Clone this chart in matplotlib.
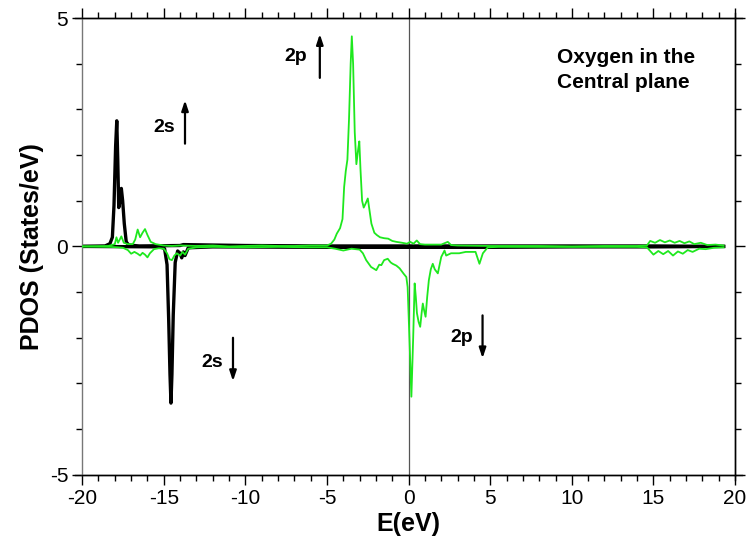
import matplotlib
matplotlib.use("Agg")
import matplotlib.pyplot as plt
from matplotlib.ticker import MultipleLocator
import numpy as np

plt.rcParams['font.family'] = ['Liberation Sans', 'DejaVu Sans']
plt.rcParams['axes.unicode_minus'] = False

# O 2s, spin up / spin down (black)
e_2s_up = [-20, -18.6, -18.3, -18.15, -18.05, -17.95, -17.88, -17.82, -17.76, -17.68,
           -17.6, -17.52, -17.42, -17.3, -17.15, -16.5, -14.0, -13.8, -10, -5, 0, 5,
           10, 15, 19.3]
dos_2s_up = [0, 0.01, 0.06, 0.2, 0.9, 2.2, 2.75, 1.9, 0.85, 1.0,
             1.27, 1.0, 0.5, 0.1, 0.03, 0.01, 0.02, 0.04, 0.02, 0.01, 0.01, 0.01,
             0.01, 0.01, 0.0]

e_2s_dn = [-20, -15.2, -14.95, -14.8, -14.7, -14.62, -14.56, -14.5, -14.42, -14.3,
           -14.15, -14.0, -13.9, -13.8, -13.7, -13.5, -12, -5, 0, 5, 10, 15, 19.3]
dos_2s_dn = [0, -0.01, -0.05, -0.4, -1.6, -2.8, -3.43, -2.8, -1.5, -0.35,
             -0.1, -0.15, -0.25, -0.12, -0.2, -0.03, -0.01, -0.02, -0.02, -0.02,
             -0.01, -0.01, 0]

# O 2p, spin up / spin down (green)
e_2p_up = [-20, -18.4, -18.0, -17.9, -17.8, -17.6, -17.45, -17.2, -16.9, -16.75,
           -16.6, -16.45, -16.3, -16.15, -16.0, -15.8, -15.5, -15.0, -14.5, -14.0,
           -13.0, -12.0, -11.0, -10.0, -9.0, -8.0, -7.0, -6.0, -5.0, -4.75,
           -4.55, -4.4, -4.2, -4.05, -3.95, -3.85, -3.75, -3.65, -3.55, -3.48,
           -3.4, -3.3, -3.2, -3.1, -3.02, -2.95, -2.85, -2.75, -2.62, -2.5,
           -2.4, -2.28, -2.1, -1.95, -1.75, -1.5, -1.25, -1.0, -0.75, -0.4,
           -0.1, 0.1, 0.3, 0.5, 0.7, 1.0, 2.0, 2.4, 2.6, 3.0,
           5.0, 8.0, 10.0, 12.0, 14.0, 14.6, 14.8, 15.1, 15.4, 15.7,
           16.0, 16.3, 16.6, 16.9, 17.2, 17.5, 17.9, 18.3, 18.8, 19.3]
dos_2p_up = [0, 0.01, 0.05, 0.2, 0.08, 0.22, 0.08, 0.05, 0.05, 0.15,
             0.37, 0.2, 0.3, 0.38, 0.25, 0.1, 0.05, 0.02, 0.01, 0.02,
             0.01, 0.02, 0.0, 0.01, 0.02, 0.01, 0.01, 0.02, 0.02, 0.06,
             0.15, 0.28, 0.4, 0.6, 1.3, 1.65, 1.9, 2.8, 4.0, 4.6,
             4.0, 2.5, 1.8, 2.1, 2.3, 1.7, 1.0, 0.85, 0.95, 1.05,
             0.8, 0.5, 0.3, 0.25, 0.2, 0.18, 0.17, 0.12, 0.1, 0.08,
             0.06, 0.1, 0.06, 0.13, 0.05, 0.04, 0.04, 0.1, 0.03, 0.02,
             0.01, 0.01, 0.0, 0.01, 0.01, 0.02, 0.12, 0.08, 0.14, 0.09,
             0.13, 0.08, 0.12, 0.07, 0.11, 0.05, 0.08, 0.03, 0.04, 0.02]

e_2p_dn = [-20, -18.3, -17.8, -17.5, -17.2, -17.0, -16.8, -16.6, -16.45, -16.3,
           -16.15, -16.0, -15.85, -15.6, -15.3, -15.0, -14.8, -14.65, -14.5, -14.35,
           -14.2, -14.0, -13.85, -13.7, -13.5, -13.0, -12, -10, -8, -6,
           -5, -4.5, -4.0, -3.5, -3.0, -2.8, -2.6, -2.3, -1.98, -1.8,
           -1.67, -1.5, -1.28, -1.1, -0.98, -0.75, -0.55, -0.3, -0.14, -0.06,
           0.05, 0.17, 0.28, 0.37, 0.44, 0.51, 0.61, 0.71, 0.8, 0.87,
           0.95, 1.04, 1.14, 1.24, 1.36, 1.48, 1.6, 1.79, 1.9, 2.0,
           2.2, 2.3, 2.6, 3.1, 3.5, 4.1, 4.34, 4.55, 4.85, 5.5,
           8, 12, 14, 14.6, 14.8, 15.0, 15.3, 15.6, 15.9, 16.2,
           16.5, 16.8, 17.1, 17.4, 17.8, 18.2, 18.7, 19.3]
dos_2p_dn = [0, -0.01, -0.02, -0.03, -0.08, -0.16, -0.12, -0.16, -0.2, -0.14,
             -0.18, -0.24, -0.15, -0.06, -0.04, -0.05, -0.15, -0.28, -0.3, -0.2,
             -0.15, -0.2, -0.12, -0.18, -0.05, -0.02, -0.01, -0.02, -0.01, -0.02,
             -0.02, -0.05, -0.09, -0.05, -0.07, -0.15, -0.3, -0.45, -0.52, -0.4,
             -0.41, -0.3, -0.27, -0.35, -0.38, -0.42, -0.48, -0.6, -0.67, -0.89,
             -2.0, -3.29, -2.0, -0.81, -1.1, -1.46, -1.65, -1.76, -1.45, -1.25,
             -1.4, -1.54, -1.1, -0.74, -0.5, -0.38, -0.5, -0.59, -0.4, -0.23,
             -0.09, -0.2, -0.15, -0.15, -0.12, -0.12, -0.38, -0.15, -0.02, -0.01,
             -0.01, -0.01, -0.01, -0.02, -0.1, -0.18, -0.1, -0.17, -0.1, -0.2,
             -0.11, -0.16, -0.08, -0.12, -0.05, -0.06, -0.03, -0.02]

# orbital labels with spin arrows: (text, text x, text y, arrow x, arrow tail y, arrow head y)
labels = [("2s", -15.0, 2.6, -13.7, 2.25, 3.2),
          ("2s", -12.05, -2.55, -10.76, -2.0, -2.95),
          ("2p", -6.9, 4.15, -5.44, 3.69, 4.65),
          ("2p", 3.24, -2.0, 4.53, -1.51, -2.45)]

title_lines = ["Oxygen in the", "Central plane"]


def main():
    fig = plt.figure(figsize=(7.47, 5.47), dpi=100)
    ax = fig.add_axes([0.110, 0.132, 0.874, 0.835])

    ax.axvline(0, color="#555555", lw=0.9, zorder=1)
    ax.plot(e_2s_up, dos_2s_up, color="black", lw=2.4, zorder=2)
    ax.plot(e_2s_dn, dos_2s_dn, color="black", lw=2.4, zorder=2)
    ax.plot(e_2p_up, dos_2p_up, color="#1ee81e", lw=1.3, zorder=3)
    ax.plot(e_2p_dn, dos_2p_dn, color="#1ee81e", lw=1.3, zorder=3)

    for text, tx, ty, axx, y0, y1 in labels:
        ax.text(tx, ty, text, ha="center", va="center", fontsize=14, fontweight="bold")
        ax.annotate("", xy=(axx, y1), xytext=(axx, y0),
                    arrowprops=dict(arrowstyle="-|>,head_length=0.6,head_width=0.2",
                                    color="black", lw=1.6, shrinkA=0, shrinkB=0))

    ax.text(9.1, 4.13, title_lines[0], ha="left", va="center", fontsize=15, fontweight="bold")
    ax.text(9.1, 3.58, title_lines[1], ha="left", va="center", fontsize=15, fontweight="bold")

    ax.set_xlim(-20, 20)
    ax.set_ylim(-5, 5)
    ax.xaxis.set_major_locator(MultipleLocator(5))
    ax.xaxis.set_minor_locator(MultipleLocator(1))
    ax.yaxis.set_major_locator(MultipleLocator(5))
    ax.yaxis.set_minor_locator(MultipleLocator(1))
    ax.tick_params(which="both", direction="out", top=True, right=True,
                   labeltop=False, labelright=False, width=1)
    ax.tick_params(which="major", length=7, labelsize=15, pad=3)
    ax.tick_params(which="minor", length=4)

    for side in ["top", "bottom", "right"]:
        ax.spines[side].set_color("black")
    ax.spines["left"].set_color("#777777")
    for sp in ax.spines.values():
        sp.set_linewidth(1)

    # axis lines run a little past the corners
    for yy in (0, 1):
        ax.plot([-0.011, 1.011], [yy, yy], transform=ax.transAxes, color="black",
                lw=1, clip_on=False)
    ax.plot([1, 1], [-0.012, 1.012], transform=ax.transAxes, color="black",
            lw=1, clip_on=False)

    ax.set_xlabel("E(eV)", fontsize=18, fontweight="bold", labelpad=3)
    ax.set_ylabel("PDOS (States/eV)", fontsize=18, fontweight="bold", labelpad=4)

    fig.savefig("out.png", dpi=100)


if __name__ == "__main__":
    main()
